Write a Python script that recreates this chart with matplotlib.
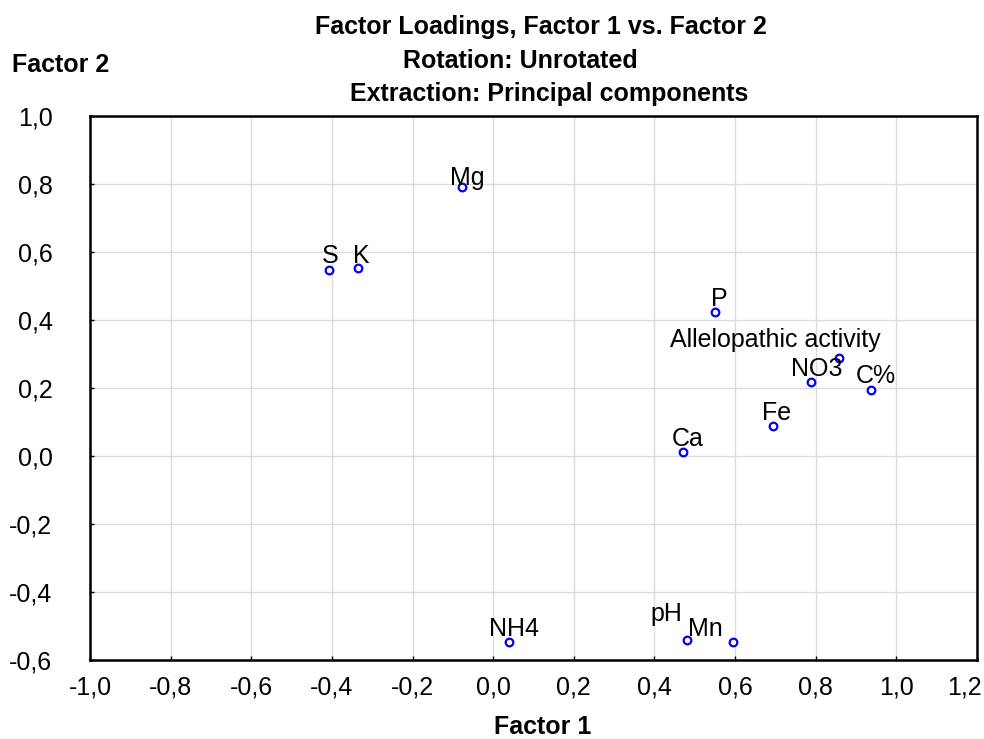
import numpy as np
import matplotlib
matplotlib.use('Agg')
import matplotlib.pyplot as plt
from matplotlib.ticker import FuncFormatter, MultipleLocator

plt.rcParams['font.family'] = ['Liberation Sans', 'DejaVu Sans']

# factor loadings
names = ['Mg', 'S', 'K', 'P', 'Allelopathic activity', 'NO3', 'C%',
         'Fe', 'Ca', 'NH4', 'pH', 'Mn']
factor1 = [-0.077, -0.408, -0.335, 0.550, 0.858, 0.788, 0.936,
           0.694, 0.470, 0.039, 0.480, 0.594]
factor2 = [0.792, 0.547, 0.554, 0.423, 0.288, 0.218, 0.194,
           0.089, 0.012, -0.548, -0.541, -0.546]
# label offsets in pixels (dx, dy) like the statistica layout
label_dx = [5, 2, 3, 4, -64, 6, 5, 4, 5, 5, -20, -27]
label_dy = [2, 7, 5, 6, 11, 6, 7, 6, 6, 6, 19, 6]

FS = 18

def dec(v):
    return ('%.1f' % v).replace('.', ',').replace('-0,0', '0,0')

fig = plt.figure(figsize=(9.84, 7.39), dpi=100)
ax = fig.add_axes([90/984, 1 - 660/739, (977 - 90)/984, (660 - 116)/739])

ax.plot(factor1, factor2, 'o', ls='none', mfc='white', mec='#0000ff',
        ms=5.5, mew=1.6, zorder=3)
for n, x, y, dx, dy in zip(names, factor1, factor2, label_dx, label_dy):
    ax.annotate(n, (x, y), xytext=(dx, dy), textcoords='offset pixels',
                ha='center', va='baseline', fontsize=FS, zorder=4)

xmin, xmax = -1.0, 1.2
ax.set_xlim(xmin, xmax)
ax.set_ylim(-0.6, 1.0)
ax.xaxis.set_major_locator(MultipleLocator(0.2))
ax.yaxis.set_major_locator(MultipleLocator(0.2))
# last x label is drawn separately, pushed in so it stays on the page
ax.xaxis.set_major_formatter(FuncFormatter(lambda v, p: '' if v > xmax - 0.01 else dec(v)))
ax.yaxis.set_major_formatter(FuncFormatter(lambda v, p: dec(v)))
ax.annotate(dec(xmax), (xmax, -0.6), xytext=(5, -15), textcoords='offset pixels',
            ha='right', va='top', fontsize=FS, annotation_clip=False)
ax.grid(True, color='#dcdcdc', lw=1.0)
ax.set_axisbelow(True)
for s in ax.spines.values():
    s.set_linewidth(1.8)
ax.tick_params(direction='in', length=3, width=1, labelsize=FS)
ax.tick_params(axis='y', pad=27)
ax.tick_params(axis='x', pad=11)

fig.text(541/984, 1 - 34/739, 'Factor Loadings, Factor 1 vs. Factor 2', ha='center',
         va='baseline', fontsize=FS, fontweight='bold')
fig.text(520/984, 1 - 68/739, 'Rotation: Unrotated', ha='center',
         va='baseline', fontsize=FS, fontweight='bold')
fig.text(549/984, 1 - 101/739, 'Extraction: Principal components', ha='center',
         va='baseline', fontsize=FS, fontweight='bold')
fig.text(12/984, 1 - 72/739, 'Factor 2', ha='left', va='baseline',
         fontsize=FS, fontweight='bold')
fig.text(543/984, 1 - 734/739, 'Factor 1', ha='center', va='baseline',
         fontsize=FS, fontweight='bold')

fig.savefig('out.png', dpi=100)
